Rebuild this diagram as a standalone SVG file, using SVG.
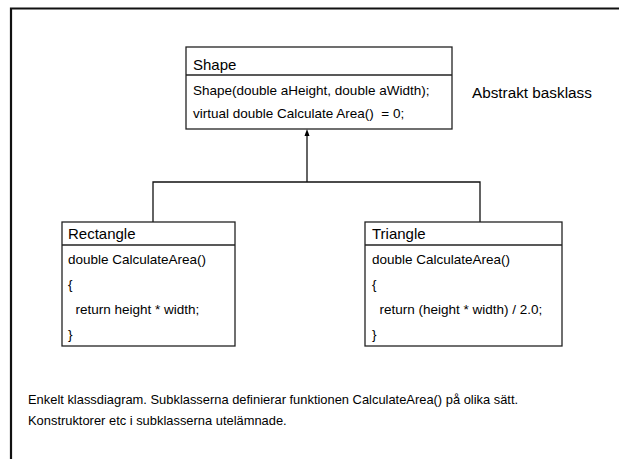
<svg xmlns="http://www.w3.org/2000/svg" width="619" height="459" viewBox="0 0 619 459">
<style>
.box{fill:#fff;stroke:#222;stroke-width:1.3}
.div{stroke:#222;stroke-width:1.3}
.conn{fill:none;stroke:#111;stroke-width:1.3}
text{font-family:"Liberation Sans",Arial,sans-serif;fill:#000}
.h{font-size:15px}
.b{font-size:13.5px}
.note{font-size:15.3px}
.cap{font-size:12.9px}
</style>
<rect width="619" height="459" fill="#fff"/>
<path d="M11,459 V8.5 H619" fill="none" stroke="#111" stroke-width="2.2"/>
<g id="connectors">
<path class="conn" d="M153,222 V182 H480 V222"/>
<path class="conn" d="M307,182 V133"/>
<polygon points="307,129 304.5,136 309.5,136" fill="#000"/>
</g>
<g id="shape">
<rect class="box" x="186" y="47" width="266" height="82"/>
<line class="div" x1="186" y1="75" x2="452" y2="75"/>
<text class="h" x="193" y="70">Shape</text>
<text class="b" x="193" y="95">Shape(double aHeight, double aWidth);</text>
<text class="b" x="193" y="118" xml:space="preserve">virtual double Calculate Area()  = 0;</text>
</g>
<g id="note">
<text class="note" x="472" y="98">Abstrakt basklass</text>
</g>
<g id="rectangle">
<rect class="box" x="62" y="222" width="173" height="124"/>
<line class="div" x1="62" y1="245" x2="235" y2="245"/>
<text class="h" x="68" y="239">Rectangle</text>
<text class="b" x="68" y="264">double CalculateArea()</text>
<text class="b" x="68" y="289">{</text>
<text class="b" x="68" y="314" xml:space="preserve">  return height * width;</text>
<text class="b" x="68" y="339">}</text>
</g>
<g id="triangle">
<rect class="box" x="365" y="222" width="197" height="124"/>
<line class="div" x1="365" y1="245" x2="562" y2="245"/>
<text class="h" x="372" y="239">Triangle</text>
<text class="b" x="372" y="264">double CalculateArea()</text>
<text class="b" x="372" y="289">{</text>
<text class="b" x="372" y="314" xml:space="preserve">  return (height * width) / 2.0;</text>
<text class="b" x="372" y="339">}</text>
</g>
<g id="caption">
<text class="cap" x="28" y="404">Enkelt klassdiagram. Subklasserna definierar funktionen CalculateArea() på olika sätt.</text>
<text class="cap" x="28" y="425">Konstruktorer etc i subklasserna utelämnade.</text>
</g>
</svg>
